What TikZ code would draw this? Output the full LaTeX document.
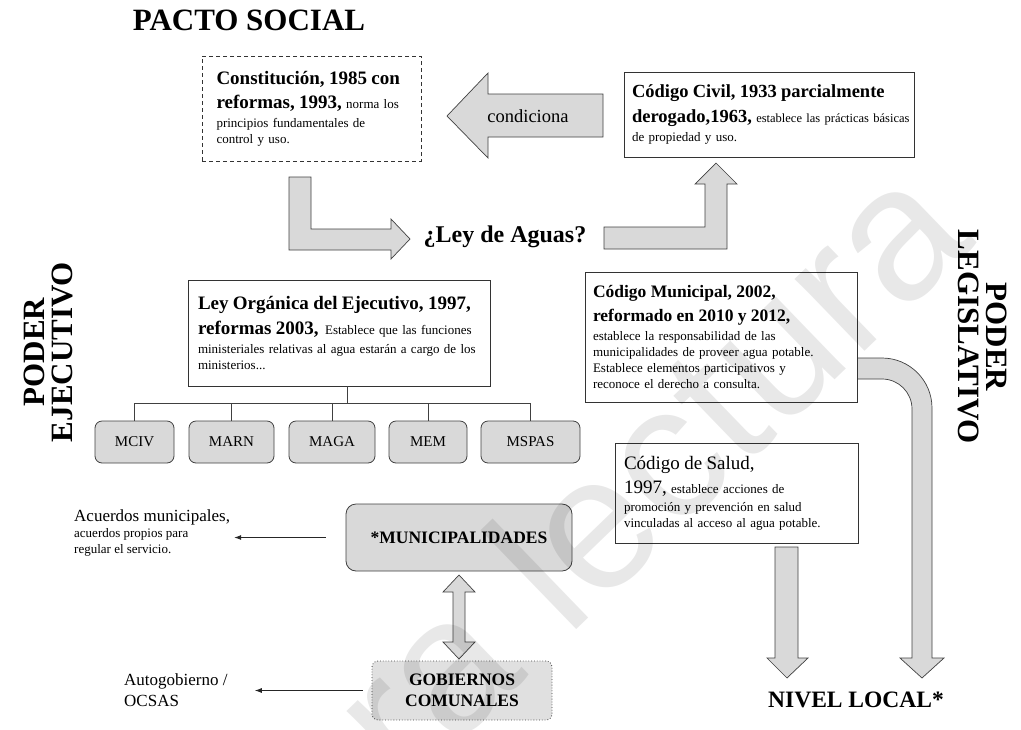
\documentclass[tikz,border=0pt]{standalone}
\usepackage{fontspec}
\setmainfont{Liberation Serif}
\setsansfont{Liberation Sans}
\usetikzlibrary{positioning,arrows.meta}
\lineskiplimit=-\maxdimen

\newcommand{\lawhead}{\fontsize{19}{23}\selectfont\bfseries}
\newcommand{\civilhead}{\fontsize{18.5}{23}\selectfont\bfseries}
\newcommand{\munihead}{\fontsize{17.5}{22}\selectfont\bfseries}
\newcommand{\lawtext}{\fontsize{13}{16}\selectfont}
\newcommand{\civiltext}{\fontsize{12.5}{16}\selectfont}
\newcommand{\saludhead}{\fontsize{19}{23}\selectfont}

\begin{document}
\begin{tikzpicture}[x=1pt,y=-1pt]
\tikzstyle{law}=[rectangle, draw=black!80, line width=0.8pt, fill=white, align=left, inner ysep=0pt, font=\lawtext]
\tikzstyle{ministry}=[rectangle, rounded corners=7pt, draw=black!75, fill=black!15, line width=0.8pt, minimum height=42pt, inner sep=0pt, font=\fontsize{15}{18}\selectfont]
\tikzstyle{level}=[rectangle, rounded corners=10pt, draw=black!75, fill=black!15, line width=0.8pt, align=center, inner sep=0pt, font=\fontsize{17.5}{21}\selectfont\bfseries]
\tikzstyle{block}=[draw=black!75, fill=black!15, line width=0.7pt]
\tikzstyle{title}=[font=\fontsize{31}{28}\selectfont\bfseries, align=center]
\tikzstyle{connect}=[-{Latex[length=7pt,width=5pt]}, line width=0.8pt, draw=black!85]
\tikzstyle{tree}=[line width=0.8pt, draw=black!75]

\useasboundingbox (0,0) rectangle (1021,729);

% titulos
\node[title] (pacto) at (249,20) {PACTO SOCIAL};
\node[title, rotate=90] (ejecutivo) at (48,352) {PODER\\EJECUTIVO};
\node[title, rotate=-90] (legislativo) at (983,337) {PODER\\LEGISLATIVO};

% flechas de bloque
\draw[block] (447,116) -- (488,73) -- (488,94) -- (603,94) -- (603,137) -- (488,137) -- (488,158) -- cycle;
\node[font=\fontsize{18.5}{22}\selectfont] (cond) at (528,116) {condiciona};
\draw[block] (289,177) -- (311,177) -- (311,229) -- (391,229) -- (391,219) -- (410,239) -- (391,259) -- (391,250) -- (289,250) -- cycle;
\draw[block] (604,227) -- (705,227) -- (705,184) -- (695,184) -- (716,163) -- (737,184) -- (727,184) -- (727,249) -- (604,249) -- cycle;
\draw[block] (840,358) -- (882,358) arc[start angle=-90, end angle=0, radius=50] -- (932,658) -- (944,658) -- (922,678) -- (900,658) -- (912,658) -- (912,409) arc[start angle=0, end angle=-90, radius=30] -- (840,379) -- cycle;
\draw[block] (775,547) -- (798,547) -- (798,658) -- (808,658) -- (787,678) -- (767,658) -- (775,658) -- cycle;
\draw[block] (459,575) -- (475,592) -- (465,592) -- (465,642) -- (475,642) -- (459,659) -- (443,642) -- (453,642) -- (453,592) -- (443,592) -- cycle;

\node[font=\fontsize{24}{28}\selectfont\bfseries] (ley) at (505,237) {¿Ley de Aguas?};

% leyes
\node[law, dash pattern=on 4pt off 3pt, text width=190pt, inner xsep=14.5pt, minimum height=105pt] (const) at (311.5,108.5)
  {{\lawhead Constitución, 1985 con}\\[7pt]
   {\lawhead reformas, 1993,} norma los\\[3pt]
   principios fundamentales de\\
   control y uso.};
\node[law, text width=274pt, inner xsep=8pt, minimum height=85pt] (civil) at (769,114.5)
  {{\civilhead Código Civil, 1933 parcialmente}\\[7pt]
   \mbox{{\civilhead derogado,1963,} \civiltext establece las prácticas básicas}\\[3pt]
   de propiedad y uso.};
\node[law, text width=282pt, inner xsep=10pt, minimum height=106pt] (leyorg) at (339,333)
  {{\lawhead Ley Orgánica del Ejecutivo, 1997,}\\[7pt]
   {\lawhead reformas 2003,}\enspace Establece que las funciones\\[3pt]
   ministeriales relativas al agua estarán a cargo de los\\
   ministerios...};
\node[law, text width=256pt, inner xsep=8pt, minimum height=130pt] (municipal) at (721,337)
  {{\munihead Código Municipal, 2002,}\\[6pt]
   {\munihead reformado en 2010 y 2012,}\\[3pt]
   establece la responsabilidad de las\\
   municipalidades de proveer agua potable.\\
   Establece elementos participativos y\\
   reconoce el derecho a consulta.};
\node[law, text width=225pt, inner xsep=9pt, minimum height=100pt] (salud) at (736.5,493)
  {{\saludhead Código de Salud,}\\[6pt]
   {\saludhead 1997,} establece acciones de\\[2pt]
   promoción y prevención en salud\\
   vinculadas al acceso al agua potable.};

% ministerios
\node[ministry, minimum width=79pt] (mciv) at (134.5,442) {MCIV};
\node[ministry, minimum width=85pt] (marn) at (231.5,442) {MARN};
\node[ministry, minimum width=86pt] (maga) at (332,442) {MAGA};
\node[ministry, minimum width=78pt] (mem) at (428,442) {MEM};
\node[ministry, minimum width=99pt] (mspas) at (530.5,442) {MSPAS};
\coordinate (bus) at (347,403);
\draw[tree] (leyorg.south -| bus) -- (bus);
\draw[tree] (bus -| mciv.north) -- (bus -| mspas.north);
\foreach \m in {mciv,marn,maga,mem,mspas}
  \draw[tree] (bus -| \m.north) -- (\m.north);

% nivel local
\node[level, minimum width=226pt, minimum height=67pt] (muni) at (459,537.5) {*MUNICIPALIDADES};
\node[level, dotted, fill=black!12, rounded corners=6pt, minimum width=180pt, minimum height=59pt] (gob) at (462,690.5) {GOBIERNOS\\COMUNALES};
\node[align=left, anchor=north west, inner sep=2pt, font=\lawtext] (acuerdos) at (72,507)
  {{\fontsize{17}{20}\selectfont Acuerdos municipales,}\\
   acuerdos propios para\\
   regular el servicio.};
\node[align=left, anchor=north west, inner sep=2pt, font=\fontsize{17}{21}\selectfont] (auto) at (122,671)
  {Autogobierno /\\OCSAS};
\draw[connect, shorten <=20pt, shorten >=2pt] (muni.west) -- (muni.west -| acuerdos.east);
\draw[connect, shorten <=9pt, shorten >=25pt] (gob.west) -- (gob.west -| auto.east);

\node[font=\fontsize{23.5}{26}\selectfont\bfseries] (nivel) at (856,700) {NIVEL LOCAL*};

% marca de agua
\node[font=\sffamily\fontsize{190}{190}\selectfont, text=black, text opacity=0.09, rotate=44, anchor=base east] (marca) at (980,240) {para lectura};
\end{tikzpicture}
\end{document}
